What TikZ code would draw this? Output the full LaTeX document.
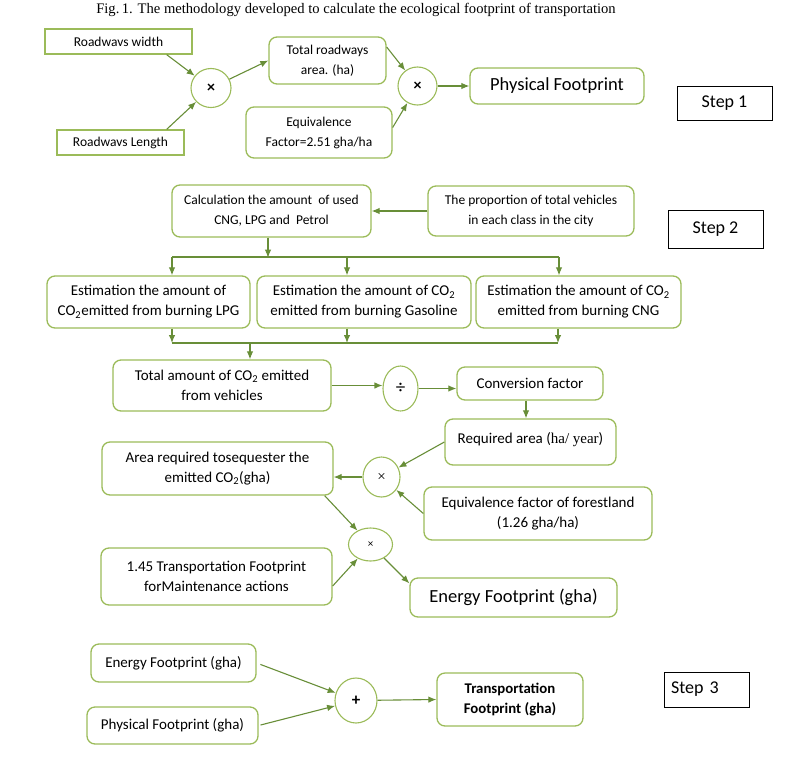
\documentclass[tikz,border=0pt]{standalone}
\usepackage{fontspec}
\setmainfont{Carlito}
\newfontfamily\capfont{Liberation Serif}
\usepackage{tikz}
\usetikzlibrary{shapes.geometric,arrows.meta}

\definecolor{boxgreen}{RGB}{155,187,89}
\definecolor{flowgreen}{RGB}{104,142,56}

\tikzset{
  gbox/.style={draw=boxgreen, line width=1.3pt, rounded corners=8pt, align=center,
    inner sep=0pt, font=\fontsize{13.5}{20}\selectfont},
  midbox/.style={gbox, font=\fontsize{15}{20}\selectfont},
  sqbox/.style={gbox, rounded corners=0pt},
  bigbox/.style={gbox, font=\fontsize{18.5}{22}\selectfont},
  opnode/.style={ellipse, draw=boxgreen, line width=1.1pt, inner sep=0pt, font=\bfseries\fontsize{16}{18}\selectfont},
  stepbox/.style={draw=black, line width=1pt, inner sep=0pt, font=\fontsize{18}{22}\selectfont},
  flow/.style={draw=flowgreen, line width=1.1pt, -{Latex[length=8pt,width=6.5pt]}},
  busline/.style={draw=flowgreen, line width=1.1pt}
}

\begin{document}
\begin{tikzpicture}[x=1pt,y=-1pt]
    \useasboundingbox (0,0) rectangle (800,763);

    % Caption
    \node[font=\capfont\fontsize{14.6}{16}\selectfont] (title) at (356,10)
      {Fig.\,1. The methodology developed to calculate the ecological footprint of transportation};

    % Step 1: physical footprint
    \node[sqbox, minimum width=147pt, minimum height=25pt] (rdwidth) at (118.5,41.5) {Roadwavs width};
    \node[sqbox, minimum width=127pt, minimum height=25pt] (rdlength) at (120.5,142.5) {\raisebox{-4pt}{Roadwavs Length}};
    \node[opnode, minimum width=40pt, minimum height=39pt] (mulA) at (211,88) {×};
    \node[gbox, minimum width=117pt, minimum height=47pt] (totarea) at (327.5,60.5) {Total roadways\\area. (ha)};
    \node[gbox, minimum width=146pt, minimum height=51pt] (eqvA) at (319,132.5) {Equivalence\\Factor=2.51 gha/ha};
    \node[opnode, minimum width=39pt, minimum height=38pt] (mulB) at (417.5,86) {×};
    \node[bigbox, minimum width=174pt, minimum height=36pt] (phys) at (557,86) {Physical Footprint};
    \node[stepbox, minimum width=95pt, minimum height=34pt] (stepA) at (724.5,103) {Step 1};

    \draw[flow] ([xshift=-26pt]rdwidth.south east) -- (mulA);
    \draw[flow] ([xshift=-18pt]rdlength.north east) -- (mulA);
    \draw[flow] (mulA) -- (totarea.west);
    \draw[flow] ([yshift=13.5pt]totarea.east) -- (mulB);
    \draw[flow] ([yshift=5pt]eqvA.east) -- (mulB);
    \draw[flow] (mulB) -- (phys.west);

    % Step 2: energy footprint
    \node[gbox, minimum width=199pt, minimum height=52pt] (calc) at (271.5,211) {Calculation the amount~ of used\\CNG, LPG and~ Petrol};
    \node[gbox, minimum width=206pt, minimum height=50pt] (prop) at (531,211) {The proportion of total vehicles\\in each class in the city};
    \node[stepbox, minimum width=95pt, minimum height=38pt] (stepB) at (715.5,229) {Step 2};

    \node[midbox, minimum width=203pt, minimum height=52pt] (lpg) at (148.5,302) {Estimation the amount of\\CO\textsubscript{2}emitted from burning LPG};
    \node[midbox, minimum width=214pt, minimum height=52pt] (gas) at (364,302) {Estimation the amount of CO\textsubscript{2}\\emitted from burning Gasoline};
    \node[midbox, minimum width=205pt, minimum height=52pt] (cng) at (578.5,302) {Estimation the amount of CO\textsubscript{2}\\emitted from burning CNG};

    \draw[flow] (prop.west) -- (calc.east);
    \draw[flow] ([xshift=-3.5pt]calc.south) -- ++(0,20);

    % distribution and collection lines
    \coordinate (topL) at (172,257);
    \coordinate (topM) at (347,257);
    \coordinate (topR) at (559,257);
    \coordinate (botL) at (172,343);
    \coordinate (botM) at (347,343);
    \coordinate (botR) at (558,343);
    \coordinate (botT) at (250,343);

    \draw[busline] (topL) -- (topR);
    \foreach \c/\b in {topL/lpg, topM/gas, topR/cng}
      \draw[flow] (\c) -- (\c |- \b.north);
    \foreach \c/\b in {botL/lpg, botM/gas, botR/cng}
      \draw[flow] (\c |- \b.south) -- (\c);
    \draw[busline] (botL) -- (botR);

    \node[midbox, minimum width=218pt, minimum height=51pt] (total) at (222,385.5) {Total amount of CO\textsubscript{2} emitted\\from vehicles};
    \node[opnode, minimum width=35pt, minimum height=45pt, font=\fontsize{19}{20}\selectfont] (divop) at (400.5,388.5) {÷};
    \node[midbox, minimum width=146pt, minimum height=33pt] (conv) at (530,383.5) {Conversion factor};
    \node[midbox, minimum width=171pt, minimum height=46pt] (reqarea) at (530.5,442) {\raisebox{7pt}{Required area ({\capfont ha/ year})}};
    \node[opnode, minimum width=37pt, minimum height=40pt, font=\capfont\fontsize{15}{16}\selectfont] (mulC) at (381.5,477) {×};
    \node[midbox, minimum width=231pt, minimum height=53pt] (seqarea) at (217.5,468.5) {Area required tosequester the\\emitted CO\textsubscript{2}(gha)};
    \node[midbox, minimum width=228pt, minimum height=53pt] (forest) at (538,513.5) {Equivalence factor of forestland\\(1.26 gha/ha)};
    \node[opnode, minimum width=44pt, minimum height=33pt, font=\fontsize{11}{12}\selectfont] (mulD) at (370.5,544.5) {×};
    \node[midbox, minimum width=231pt, minimum height=57pt] (maint) at (216.5,576.5) {1.45 Transportation Footprint\\forMaintenance actions};
    \node[bigbox, minimum width=207pt, minimum height=39pt] (energy) at (513.5,597.5) {Energy Footprint (gha)};

    \draw[flow] (botT) -- (botT |- total.north);
    \draw[flow] (total.east) -- (total.east -| divop.west);
    \draw[flow] (divop.east) -- (divop.east -| conv.west);
    \draw[flow] ([xshift=-4pt]conv.south) -- ([xshift=-4pt]conv.south |- reqarea.north);
    \draw[flow] (reqarea.west) -- (mulC);
    \draw[flow] (forest.west) -- (mulC);
    \draw[flow] (mulC.west) -- (mulC.west -| seqarea.east);
    \draw[flow] ([xshift=-9pt]seqarea.south east) -- (mulD);
    \draw[flow] ([yshift=-9.5pt]maint.east) -- (mulD);
    \draw[flow] (mulD) -- ([yshift=-6pt]energy.north west);

    % Step 3: transportation footprint
    \node[midbox, minimum width=165pt, minimum height=38pt] (efp) at (173.5,663) {Energy Footprint (gha)};
    \node[midbox, minimum width=171pt, minimum height=37pt] (pfp) at (172.5,725.5) {Physical Footprint (gha)};
    \node[opnode, minimum width=42pt, minimum height=45pt, font=\bfseries\fontsize{17}{18}\selectfont] (plus) at (356,700.5) {+};
    \node[gbox, minimum width=146pt, minimum height=53pt, font=\bfseries\fontsize{14.8}{20}\selectfont] (tfp) at (510,699.5) {Transportation\\Footprint (gha)};
    \node[stepbox, minimum height=35pt, text width=71pt, inner xsep=7pt, align=left] (stepC) at (706.5,689.5) {Step 3};

    \draw[flow, shorten <=4pt] (efp.east) -- (plus);
    \draw[flow, shorten <=2pt] (pfp.east) -- (plus);
    \draw[flow] (plus) -- (tfp.west);

\end{tikzpicture}
\end{document}
